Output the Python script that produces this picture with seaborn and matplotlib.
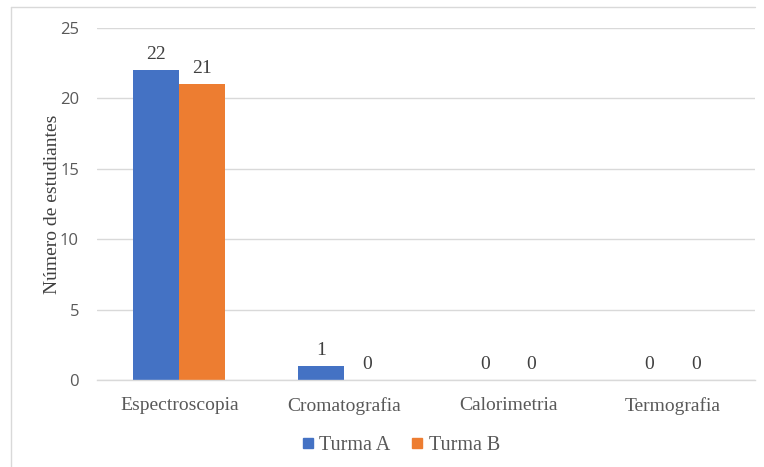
import matplotlib
matplotlib.use("Agg")
import matplotlib.pyplot as plt
from matplotlib.lines import Line2D
import seaborn as sns
import pandas as pd

categories = ["Espectroscopia", "Cromatografia", "Calorimetria", "Termografia"]
turma_a = [22, 1, 0, 0]
turma_b = [21, 0, 0, 0]
series_names = ["Turma A", "Turma B"]
colors = ["#4472C4", "#ED7D31"]
y_ticks = [0, 5, 10, 15, 20, 25]

df = pd.DataFrame({
    "Categoria": categories * 2,
    "Valor": turma_a + turma_b,
    "Turma": [series_names[0]] * len(categories) + [series_names[1]] * len(categories),
})

sns.set_theme(style="white")
serif = ["Liberation Serif", "DejaVu Serif"]
sans = ["Open Sans", "DejaVu Sans"]
text_color = "#595959"

fig = plt.figure(figsize=(7.64, 4.67), dpi=100)
ax = fig.add_axes([0.127, 0.186, 0.861, 0.754])

sns.barplot(data=df, x="Categoria", y="Valor", hue="Turma", palette=colors,
            width=0.56, saturation=1, ax=ax, legend=True, linewidth=0)

for cont in ax.containers:
    ax.bar_label(cont, labels=[f"{int(v.get_height())}" for v in cont],
                 padding=5, fontsize=14, color="#404040", fontfamily=serif)

ax.set_ylim(0, 25)
ax.set_yticks(y_ticks)
ax.set_yticklabels([str(t) for t in y_ticks], fontfamily=sans, fontsize=12, color=text_color)
ax.set_xticks(range(len(categories)))
ax.set_xticklabels(categories, fontfamily=serif, fontsize=14, color=text_color)
ax.tick_params(axis="x", length=0, pad=12)
ax.tick_params(axis="y", length=0, pad=13)
ax.set_xlabel("")
ax.set_ylabel("Número de estudiantes", fontfamily=serif, fontsize=14, color="#404040", labelpad=-1)
ax.yaxis.grid(True, color="#D9D9D9", linewidth=1)
ax.set_axisbelow(True)
for s in ["top", "right", "left"]:
    ax.spines[s].set_visible(False)
ax.spines["bottom"].set_color("#D9D9D9")
ax.spines["bottom"].set_linewidth(1)

leg_handles = [Line2D([0], [0], marker="s", linestyle="", markersize=7,
                      markerfacecolor=c, markeredgecolor=c) for c in colors]
ax.legend(leg_handles, series_names, loc="upper center", bbox_to_anchor=(0.455, -0.108),
          ncol=2, frameon=False, prop={"family": serif, "size": 14.5},
          labelcolor=text_color, handletextpad=-0.2, columnspacing=0.6, handlelength=1.5)

# light frame around the chart (top and left edges visible)
fig.add_artist(Line2D([11 / 764, 11 / 764], [0, 1 - 7 / 467], transform=fig.transFigure,
                      color="#D9D9D9", linewidth=1))
fig.add_artist(Line2D([11 / 764, 755 / 764], [1 - 7 / 467, 1 - 7 / 467], transform=fig.transFigure,
                      color="#D9D9D9", linewidth=1))

fig.savefig("out.png", dpi=100)
